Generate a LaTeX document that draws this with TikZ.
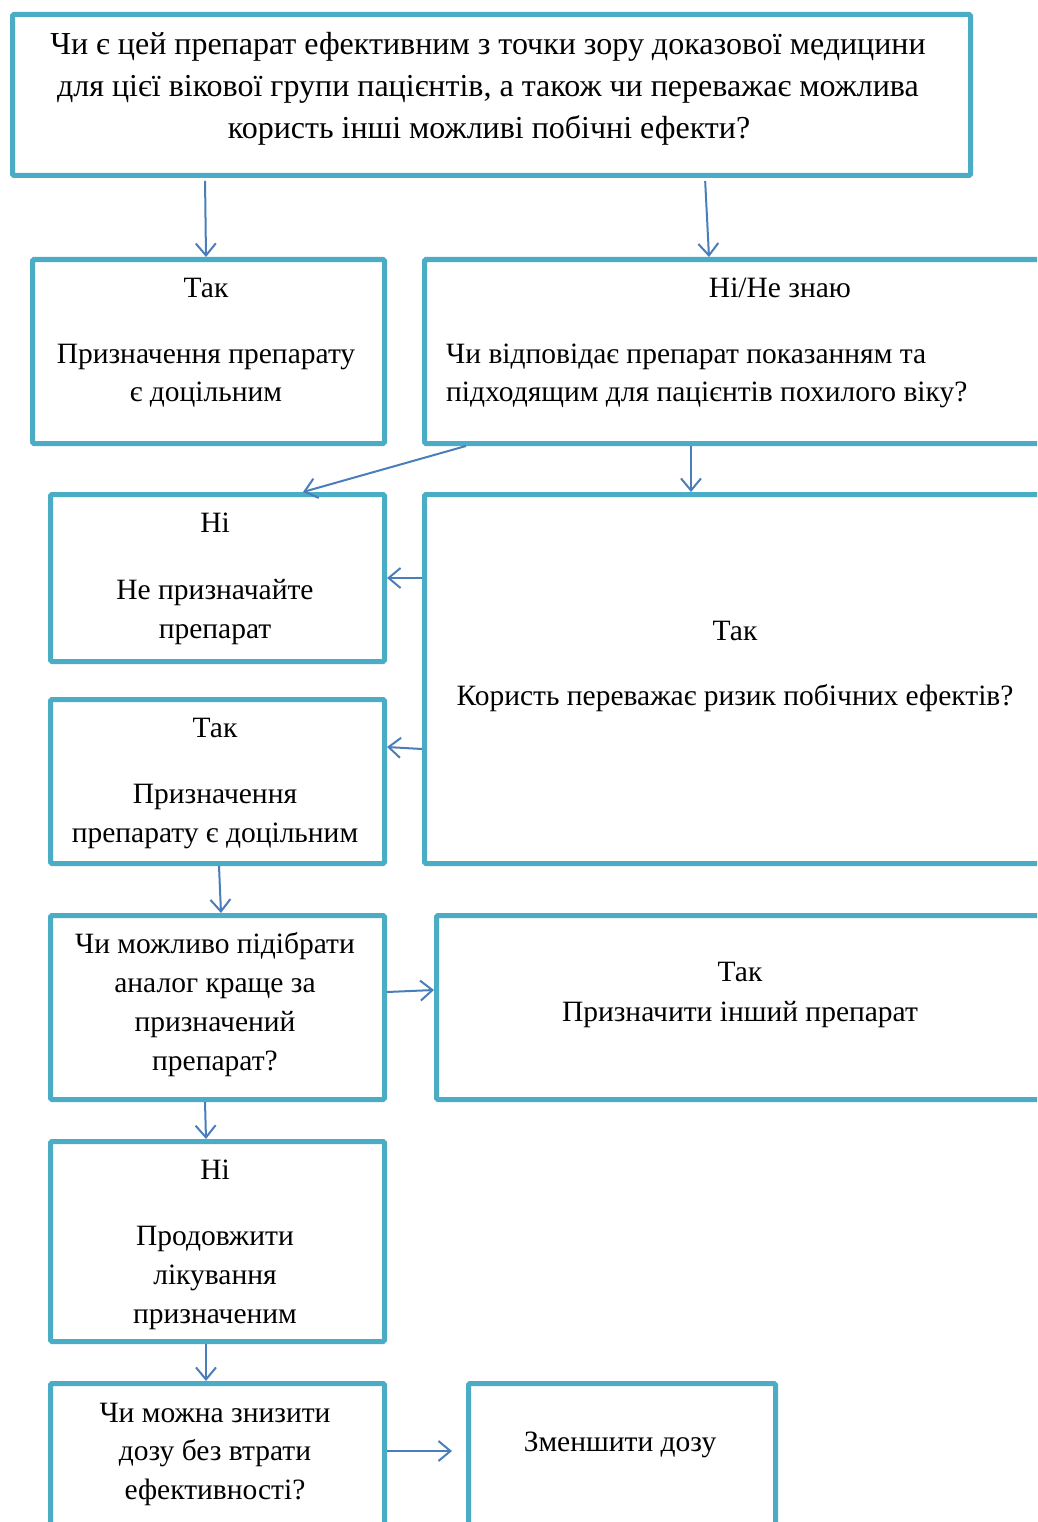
\documentclass[tikz,border=0pt]{standalone}
\usepackage{fontspec}
\setmainfont{Liberation Serif}
\usetikzlibrary{arrows.meta,calc}
\definecolor{boxc}{HTML}{4BACC6}
\definecolor{arrc}{HTML}{4A7EBB}
\begin{document}
\begin{tikzpicture}[x=1pt,y=-1pt,
 box/.style={draw=boxc,line width=5pt,rounded corners=1.5pt,inner sep=0pt,anchor=north west},
 txt/.style={inner sep=0pt,anchor=base,font=\fontsize{29.5}{35}\selectfont},
 ttxt/.style={txt,font=\fontsize{32}{38}\selectfont},
 ltxt/.style={txt,anchor=base west},
 conn/.style={draw=arrc,line width=2pt,-{Straight Barb[length=12pt,width=20pt,line width=2pt]}}]
\clip (0,0) rectangle (1037,1522);
\fill[white] (0,0) rectangle (1037,1522);
% boxes
\node[box,minimum width=958pt,minimum height=161pt] (top) at (10,12) {};
\node[box,minimum width=352pt,minimum height=184pt] (yes1) at (30,257) {};
\node[box,minimum width=700pt,minimum height=184pt] (nk) at (422,257) {};
\node[box,minimum width=334pt,minimum height=167pt] (no1) at (48,492) {};
\node[box,minimum width=700pt,minimum height=369pt] (big) at (422,492) {};
\node[box,minimum width=334pt,minimum height=164pt] (yes2) at (48,697) {};
\node[box,minimum width=334pt,minimum height=184pt] (alt) at (48,913) {};
\node[box,minimum width=700pt,minimum height=184pt] (other) at (434,913) {};
\node[box,minimum width=334pt,minimum height=200pt] (cont) at (48,1139) {};
\node[box,minimum width=334pt,minimum height=200pt] (dose) at (48,1381) {};
\node[box,minimum width=307pt,minimum height=200pt] (reduce) at (466,1381) {};
% texts
\node[ttxt] (t1) at (488,55) {Чи є цей препарат ефективним з точки зору доказової медицини};
\node[ttxt] (t2) at (488,97) {для цієї вікової групи пацієнтів, а також чи переважає можлива};
\node[ttxt] (t3) at (489,139) {користь інші можливі побічні ефекти?};
\node[txt] (y1a) at (206,297) {Так};
\node[txt] (y1b) at (206,363) {Призначення препарату};
\node[txt] (y1c) at (206,401) {є доцільним};
\node[txt] (nka) at (780,297) {Ні/Не знаю};
\node[ltxt] (nkb) at (446,363) {Чи відповідає препарат показанням та};
\node[ltxt] (nkc) at (446,401) {підходящим для пацієнтів похилого віку?};
\node[txt] (n1a) at (215,532) {Ні};
\node[txt] (n1b) at (215,599) {Не призначайте};
\node[txt] (n1c) at (215,638) {препарат};
\node[txt] (bga) at (735,640) {Так};
\node[txt] (bgb) at (735,705) {Користь переважає ризик побічних ефектів?};
\node[txt] (y2a) at (215,737) {Так};
\node[txt] (y2b) at (215,803) {Призначення};
\node[txt] (y2c) at (215,842) {препарату є доцільним};
\node[txt] (ala) at (215,953) {Чи можливо підібрати};
\node[txt] (alb) at (215,992) {аналог краще за};
\node[txt] (alc) at (215,1031) {призначений};
\node[txt] (ald) at (215,1070) {препарат?};
\node[txt] (ota) at (740,981) {Так};
\node[txt] (otb) at (740,1021) {Призначити інший препарат};
\node[txt] (coa) at (215,1179) {Ні};
\node[txt] (cob) at (215,1245) {Продовжити};
\node[txt] (coc) at (215,1284) {лікування};
\node[txt] (cod) at (215,1323) {призначеним};
\node[txt] (doa) at (215,1422) {Чи можна знизити};
\node[txt] (dob) at (215,1460) {дозу без втрати};
\node[txt] (doc) at (215,1499) {ефективності?};
\node[txt] (rea) at (620,1451) {Зменшити дозу};
% connectors
\draw[conn,shorten <=3pt] ($(top.south west)+(195,0)$) -- ($(yes1.north west)+(176,0)$);
\draw[conn,shorten <=3pt] ($(top.south west)+(695,0)$) -- ($(nk.north west)+(287,0)$);
\draw[conn] ($(nk.south west)+(44,0)$) -- ($(no1.north west)+(255,0)$);
\draw[conn] ($(nk.south west)+(269,0)$) -- ($(big.north west)+(269,0)$);
\draw[conn] ($(big.north west)+(0,86)$) -- ($(no1.north east)+(0,86)$);
\draw[conn] ($(big.north west)+(0,257)$) -- ($(yes2.north east)+(0,50)$);
\draw[conn] ($(yes2.south west)+(171,0)$) -- ($(alt.north west)+(173,0)$);
\draw[conn] ($(alt.north east)+(0,79)$) -- ($(other.north west)+(0,77)$);
\draw[conn] ($(alt.south west)+(157,0)$) -- ($(cont.north west)+(158,0)$);
\draw[conn] ($(cont.south west)+(158,0)$) -- ($(dose.north west)+(158,0)$);
\draw[conn,shorten >=14pt] ($(dose.north east)+(0,70)$) -- ($(reduce.north west)+(0,70)$);
\end{tikzpicture}
\end{document}
